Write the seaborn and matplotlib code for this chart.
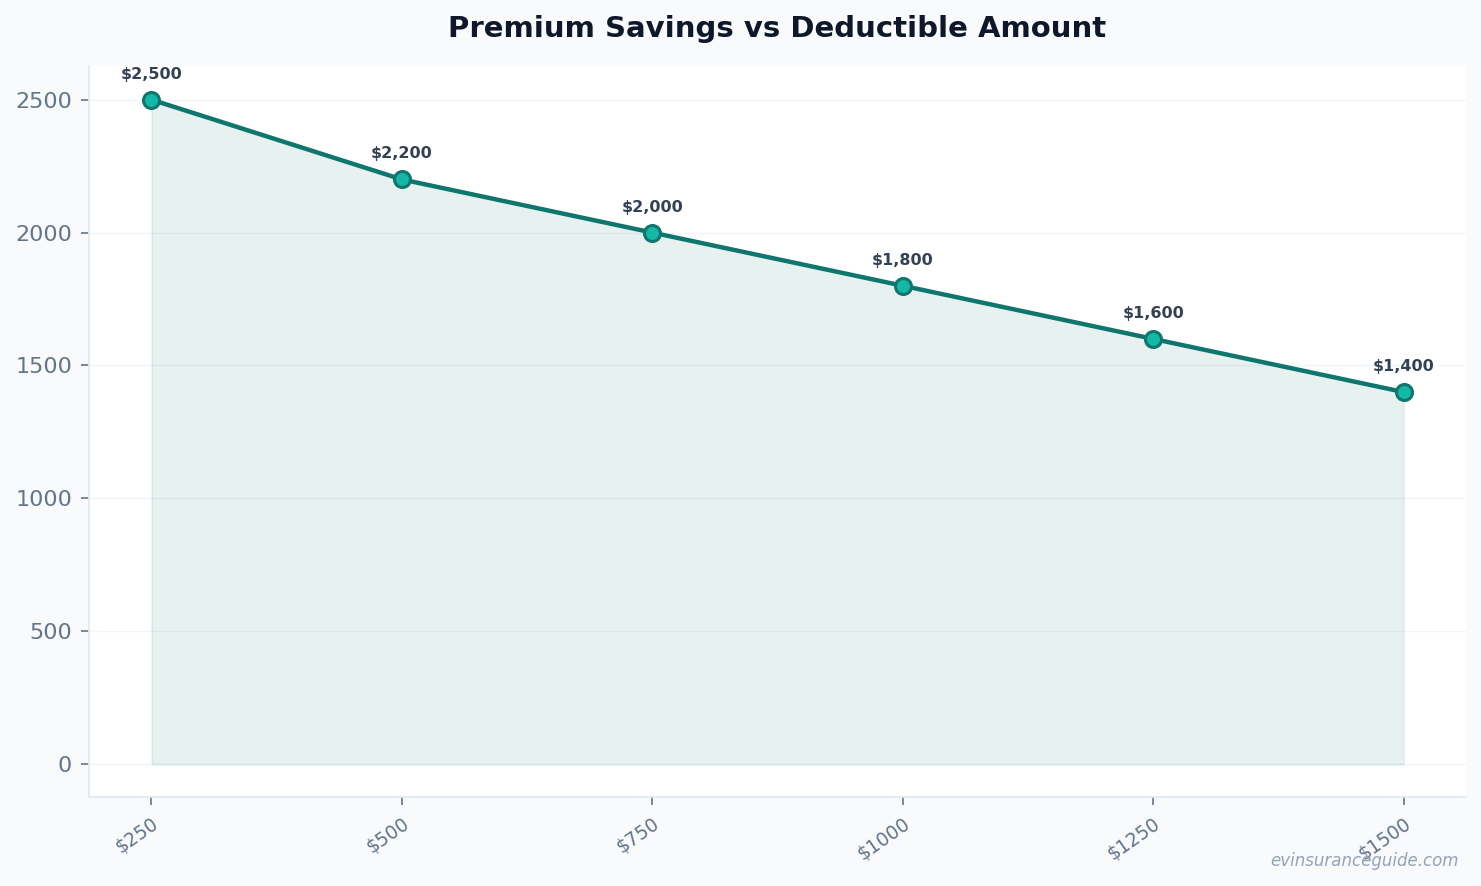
import matplotlib
matplotlib.use("Agg")
import matplotlib.pyplot as plt
import seaborn as sns
import pandas as pd

# Data
deductibles = ["$250", "$500", "$750", "$1000", "$1250", "$1500"]
savings = [2500, 2200, 2000, 1800, 1600, 1400]

df = pd.DataFrame({"Deductible": deductibles, "Savings": savings})

sns.set_theme(style="white")
plt.rcParams["font.family"] = ["DejaVu Sans"]

fig, ax = plt.subplots(figsize=(14.81, 8.86), dpi=100)
fig.patch.set_facecolor("#f8fafc")
ax.set_facecolor("white")

sns.lineplot(data=df, x="Deductible", y="Savings", ax=ax, color="#0f766e",
             linewidth=3.2, marker="o", markersize=11.5,
             markerfacecolor="#14b8a6", markeredgecolor="#0f766e",
             markeredgewidth=2.2, zorder=3, sort=False)
x = list(range(len(deductibles)))
ax.fill_between(x, savings, color="#0f766e", alpha=0.1, zorder=1)

for i, v in enumerate(savings):
    ax.annotate(f"${v:,}", (i, v), xytext=(0, 13), textcoords="offset points",
                ha="center", va="bottom", fontsize=11.5, fontweight="bold",
                color="#334155")

ax.set_title("Premium Savings vs Deductible Amount", fontsize=21,
             fontweight="bold", color="#0f172a", pad=21)
ax.set_xlabel("")
ax.set_ylabel("")

top = max(savings)
ax.set_xlim(-0.25, len(deductibles) - 1 + 0.25)
ax.set_ylim(-0.05 * top, top * 1.05)
ax.set_yticks([0, 500, 1000, 1500, 2000, 2500])

ax.yaxis.grid(True, color="#f1f5f9", linewidth=1)
ax.set_axisbelow(True)
for side in ["top", "right"]:
    ax.spines[side].set_visible(False)
for side in ["left", "bottom"]:
    ax.spines[side].set_color("#e2e8f0")
    ax.spines[side].set_linewidth(1.2)

ax.tick_params(axis="both", which="both", length=6, width=1.2,
               color="#64748b", left=True, bottom=True, pad=6)
plt.setp(ax.get_yticklabels(), fontsize=16, color="#64748b")
plt.setp(ax.get_xticklabels(), fontsize=13.5, color="#64748b", rotation=35,
         ha="right", rotation_mode="anchor")

fig.text(0.985, 0.018, "evinsuranceguide.com", ha="right", va="bottom",
         fontsize=12, style="italic", color="#94a3b8")

plt.subplots_adjust(left=0.06, right=0.99, top=0.925, bottom=0.1)
plt.savefig("out.png", dpi=100, facecolor=fig.get_facecolor())
